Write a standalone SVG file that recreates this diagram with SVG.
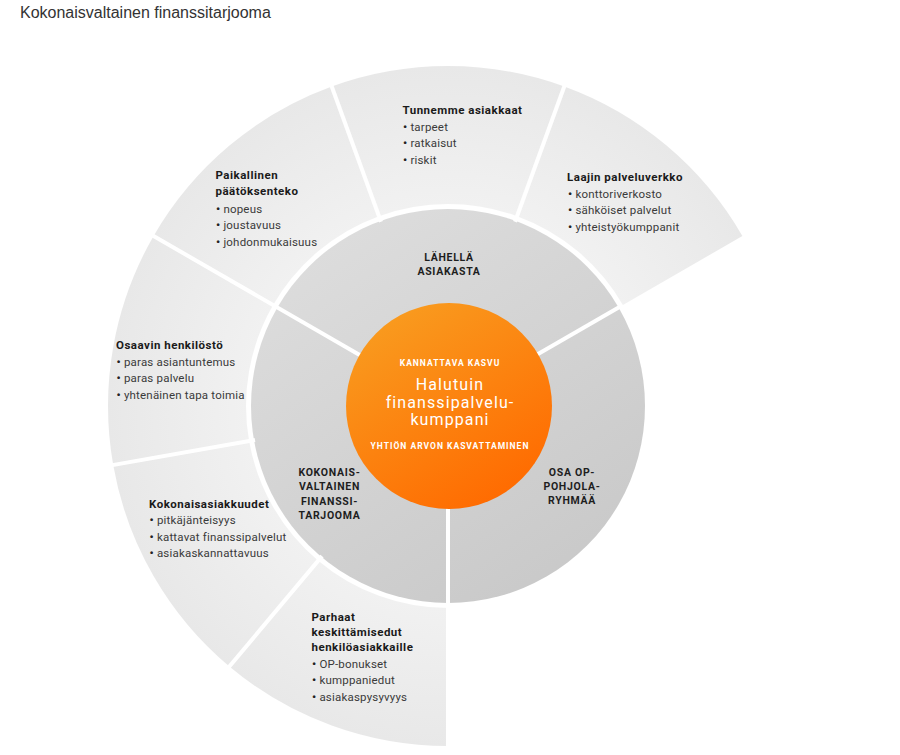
<svg xmlns="http://www.w3.org/2000/svg" width="900" height="755" viewBox="0 0 900 755">
<style>
.title{font-family:"Liberation Sans",Arial,sans-serif;font-size:16px;fill:#333}
.h{font-family:Roboto,"DejaVu Sans",sans-serif;font-size:11.5px;font-weight:bold;fill:#1a1a1a;letter-spacing:0.5px}
.b{font-family:Roboto,"DejaVu Sans",sans-serif;font-size:11.5px;fill:#3a3a3a;letter-spacing:0.2px}
.d{font-weight:bold;fill:#222}
.cap{font-family:Roboto,"DejaVu Sans",sans-serif;font-size:10.5px;font-weight:bold;fill:#1e1e1e;letter-spacing:0.7px;text-anchor:middle}
.ws{font-family:Roboto,"DejaVu Sans",sans-serif;font-size:8.5px;font-weight:bold;fill:#fff;letter-spacing:1px;text-anchor:middle}
.wl{font-family:Roboto,"DejaVu Sans",sans-serif;font-size:16px;fill:#fff;letter-spacing:1.1px;text-anchor:middle}
.outer{fill:url(#gOuter)}
.inner{fill:url(#gInner)}
.div{stroke:#fff;stroke-width:4;fill:none}
</style>
<defs>
<radialGradient id="gOuter" gradientUnits="userSpaceOnUse" cx="448" cy="406" r="340">
<stop offset="0.59" stop-color="#f1f1f1"/>
<stop offset="1" stop-color="#e8e8e8"/>
</radialGradient>
<linearGradient id="gInner" gradientUnits="userSpaceOnUse" x1="330" y1="220" x2="580" y2="600">
<stop offset="0" stop-color="#dddddd"/>
<stop offset="1" stop-color="#c8c8c8"/>
</linearGradient>
<linearGradient id="gOrange" x1="0.25" y1="0.05" x2="0.8" y2="0.95">
<stop offset="0" stop-color="#f99a1e"/>
<stop offset="1" stop-color="#ff6a00"/>
</linearGradient>
</defs>
<rect width="900" height="755" fill="#fff"/>
<text class="title" x="20" y="18">Kokonaisvaltainen finanssitarjooma</text>

<g id="laajin">
<path class="outer" d="M564.3,86.5 A340,340 0 0 1 742.4,236 L622.9,305 A202,202 0 0 0 517.1,216.2 Z"/>
<text class="h" x="567" y="181">Laajin palveluverkko</text>
<text class="b" x="568" y="197.5"><tspan class="d">•</tspan> konttoriverkosto</text>
<text class="b" x="568" y="214"><tspan class="d">•</tspan> sähköiset palvelut</text>
<text class="b" x="568" y="230.5"><tspan class="d">•</tspan> yhteistyökumppanit</text>
</g>
<g id="tunnemme">
<path class="outer" d="M331.7,86.5 A340,340 0 0 1 564.3,86.5 L517.1,216.2 A202,202 0 0 0 378.9,216.2 Z"/>
<text class="h" x="402.5" y="114">Tunnemme asiakkaat</text>
<text class="b" x="403" y="130.5"><tspan class="d">•</tspan> tarpeet</text>
<text class="b" x="403" y="147"><tspan class="d">•</tspan> ratkaisut</text>
<text class="b" x="403" y="163.5"><tspan class="d">•</tspan> riskit</text>
</g>
<g id="paikallinen">
<path class="outer" d="M153.6,236 A340,340 0 0 1 331.7,86.5 L378.9,216.2 A202,202 0 0 0 273.1,305 Z"/>
<text class="h" x="215.5" y="179">Paikallinen</text>
<text class="h" x="215.5" y="195">päätöksenteko</text>
<text class="b" x="216" y="212.5"><tspan class="d">•</tspan> nopeus</text>
<text class="b" x="216" y="229"><tspan class="d">•</tspan> joustavuus</text>
<text class="b" x="216" y="245.5"><tspan class="d">•</tspan> johdonmukaisuus</text>
</g>
<g id="osaavin">
<path class="outer" d="M113.2,465 A340,340 0 0 1 153.6,236 L273.1,305 A202,202 0 0 0 249.1,441.1 Z"/>
<text class="h" x="116" y="349">Osaavin henkilöstö</text>
<text class="b" x="116.5" y="365.5"><tspan class="d">•</tspan> paras asiantuntemus</text>
<text class="b" x="116.5" y="382"><tspan class="d">•</tspan> paras palvelu</text>
<text class="b" x="116.5" y="398.5"><tspan class="d">•</tspan> yhtenäinen tapa toimia</text>
</g>
<g id="kokonaisasiakkuudet">
<path class="outer" d="M229.4,666.5 A340,340 0 0 1 113.2,465 L249.1,441.1 A202,202 0 0 0 318.2,560.7 Z"/>
<text class="h" x="149" y="507.5">Kokonaisasiakkuudet</text>
<text class="b" x="149.5" y="524"><tspan class="d">•</tspan> pitkäjänteisyys</text>
<text class="b" x="149.5" y="540.5"><tspan class="d">•</tspan> kattavat finanssipalvelut</text>
<text class="b" x="149.5" y="557"><tspan class="d">•</tspan> asiakaskannattavuus</text>
</g>
<g id="parhaat">
<path class="outer" d="M448,746 A340,340 0 0 1 229.4,666.5 L318.2,560.7 A202,202 0 0 0 448,608 Z"/>
<text class="h" x="311.5" y="621">Parhaat</text>
<text class="h" x="311.5" y="636">keskittämisedut</text>
<text class="h" x="311.5" y="651">henkilöasiakkaille</text>
<text class="b" x="312" y="667.5"><tspan class="d">•</tspan> OP-bonukset</text>
<text class="b" x="312" y="684"><tspan class="d">•</tspan> kumppaniedut</text>
<text class="b" x="312" y="700.5"><tspan class="d">•</tspan> asiakaspysyvyys</text>
</g>

<g id="lahella">
<path class="inner" d="M448,406 L277.4,307.5 A197,197 0 0 1 618.6,307.5 Z"/>
<text class="cap" x="449" y="260.5">LÄHELLÄ</text>
<text class="cap" x="449" y="275">ASIAKASTA</text>
</g>
<g id="osa-op">
<path class="inner" d="M448,406 L618.6,307.5 A197,197 0 0 1 448,603 Z"/>
<text class="cap" x="572" y="476">OSA OP-</text>
<text class="cap" x="572" y="490">POHJOLA-</text>
<text class="cap" x="572" y="504">RYHMÄÄ</text>
</g>
<g id="kokonaisvaltainen">
<path class="inner" d="M448,406 L448,603 A197,197 0 0 1 277.4,307.5 Z"/>
<text class="cap" x="329.5" y="476">KOKONAIS-</text>
<text class="cap" x="329.5" y="490">VALTAINEN</text>
<text class="cap" x="329.5" y="504.5">FINANSSI-</text>
<text class="cap" x="329.5" y="519">TARJOOMA</text>
</g>

<g id="dividers">
<line class="div" x1="515" y1="221.8" x2="566" y2="81.8"/>
<line class="div" x1="381" y1="221.8" x2="330" y2="81.8"/>
<line class="div" x1="361.4" y1="356" x2="149.2" y2="233.5"/>
<line class="div" x1="255" y1="440" x2="108.2" y2="465.9"/>
<line class="div" x1="322" y1="556.1" x2="226.2" y2="670.3"/>
<line class="div" x1="448" y1="506" x2="448" y2="751"/>
<line class="div" x1="534.6" y1="356" x2="621.2" y2="306"/>
</g>

<g id="core">
<circle cx="449" cy="406" r="103" fill="url(#gOrange)"/>
<text class="ws" x="450" y="366">KANNATTAVA KASVU</text>
<text class="wl" x="450" y="390">Halutuin</text>
<text class="wl" x="450" y="407.5">finanssipalvelu-</text>
<text class="wl" x="450" y="425">kumppani</text>
<text class="ws" x="450" y="449">YHTIÖN ARVON KASVATTAMINEN</text>
</g>
</svg>
